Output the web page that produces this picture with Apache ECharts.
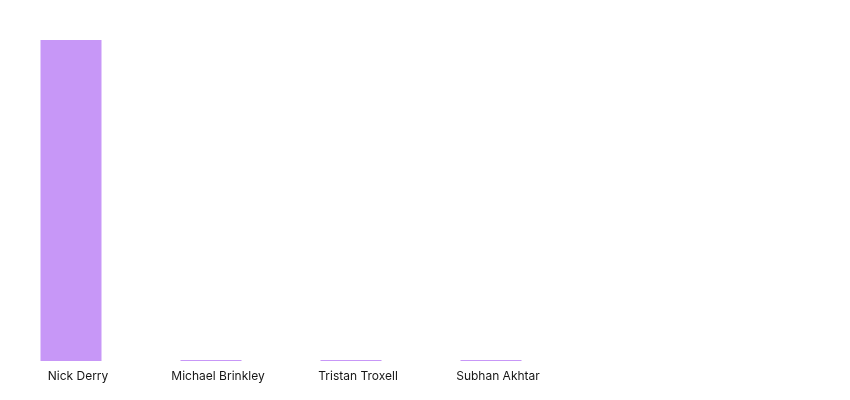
<!DOCTYPE html>
<html><head><meta charset="utf-8">
<script src="https://cdn.jsdelivr.net/npm/echarts@6/dist/echarts.min.js"></script>
<style>html,body{margin:0;padding:0;background:#fff}#c{width:850px;height:400px}</style>
</head><body><div id="c"></div>
<script>
const categories = ['Nick Derry', 'Michael Brinkley', 'Tristan Troxell', 'Subhan Akhtar'];
const values = [321, 1, 1, 1];
const chart = echarts.init(document.getElementById('c'), null, {renderer: 'canvas'});
chart.setOption({
  animation: false,
  grid: {left: 1, right: 9, top: 40, bottom: 39, containLabel: false},
  xAxis: {
    type: 'category', data: categories, max: 5,
    axisLine: {show: false}, axisTick: {show: false}, splitLine: {show: false},
    axisLabel: {margin: 9, fontSize: 12, color: '#161616', fontFamily: 'Inter, "Noto Sans", sans-serif', interval: 0, padding: [0, 0, 0, 14]}
  },
  yAxis: {type: 'value', min: 0, max: 321, show: false, splitLine: {show: false}},
  series: [{
    type: 'bar', data: values, barWidth: 61,
    itemStyle: {color: '#c797f7'}
  }]
});
</script></body></html>
